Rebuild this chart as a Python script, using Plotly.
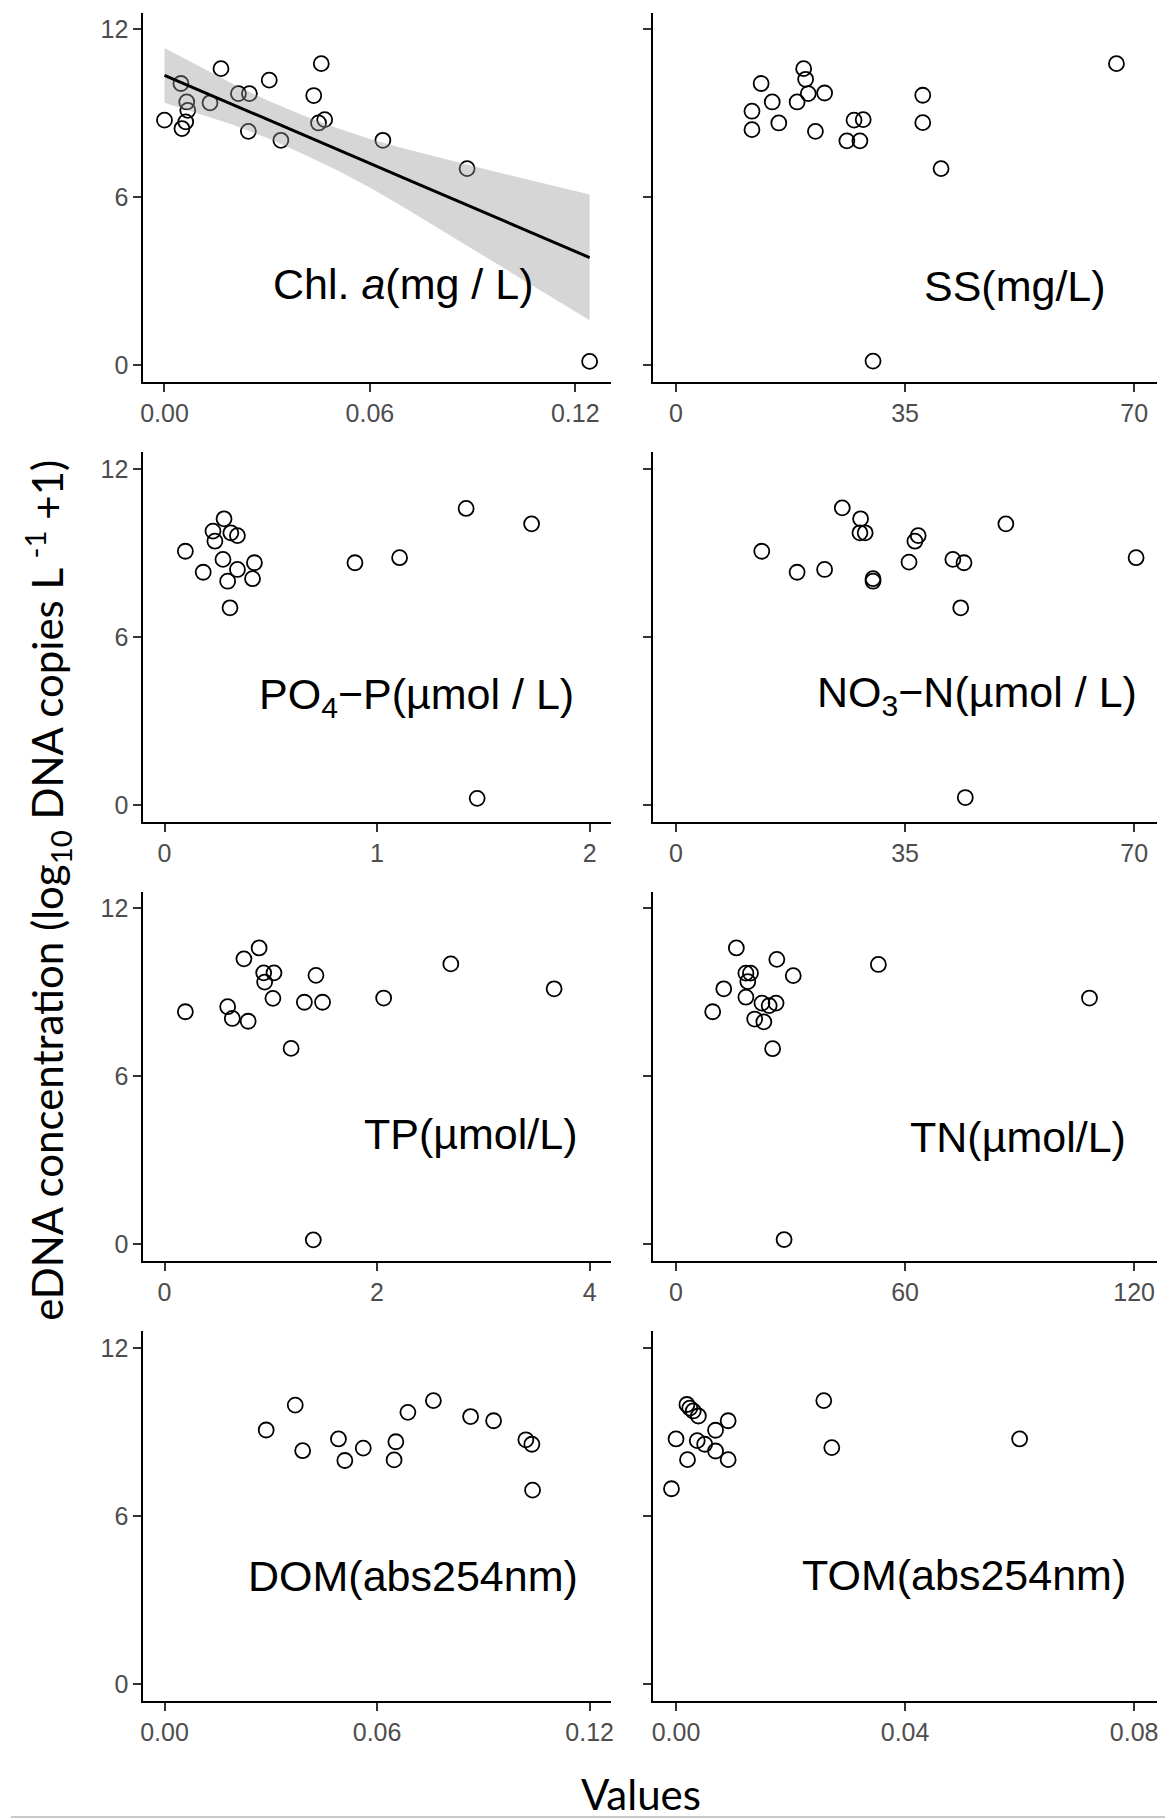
import plotly.graph_objects as go

W, H = 1168, 1819

# ---------------- data ----------------
chl_x = [0.0000, 0.0051, 0.0048, 0.0065, 0.0068, 0.0062, 0.0133, 0.0165, 0.0216, 0.0248,
         0.0245, 0.0306, 0.0340, 0.0436, 0.0458, 0.0450, 0.0468, 0.0638, 0.0884, 0.1242]
chl_y = [8.76, 8.46, 10.07, 9.41, 9.11, 8.70, 9.38, 10.60, 9.71, 9.71,
         8.36, 10.19, 8.04, 9.64, 10.78, 8.66, 8.78, 8.04, 7.03, 0.14]

ss_x = [11.6, 11.6, 13.0, 14.7, 15.7, 18.5, 19.5, 19.8, 20.2, 22.7,
        21.3, 26.1, 27.2, 28.6, 28.1, 37.7, 37.7, 40.5, 30.1, 67.3]
ss_y = [9.08, 8.42, 10.07, 9.41, 8.66, 9.41, 10.60, 10.22, 9.71, 9.73,
        8.36, 8.02, 8.76, 8.78, 8.02, 9.65, 8.67, 7.03, 0.15, 10.78]

po4_x = [0.098, 0.182, 0.228, 0.237, 0.280, 0.312, 0.343, 0.275, 0.297, 0.343,
         0.308, 0.423, 0.414, 0.896, 1.106, 1.419, 1.727, 1.471]
po4_y = [9.06, 8.31, 9.78, 9.42, 10.22, 9.72, 9.62, 8.77, 7.99, 8.41,
         7.04, 8.65, 8.08, 8.65, 8.83, 10.59, 10.04, 0.23]

no3_x = [13.1, 18.5, 22.7, 25.4, 28.2, 28.1, 28.9, 30.1, 30.1, 35.6,
         36.5, 37.0, 42.3, 44.0, 43.5, 50.4, 70.3, 44.2]
no3_y = [9.06, 8.31, 8.41, 10.61, 10.22, 9.72, 9.72, 8.08, 7.99, 8.67,
         9.42, 9.62, 8.77, 8.65, 7.04, 10.04, 8.83, 0.26]

tp_x = [0.196, 0.594, 0.638, 0.787, 0.747, 0.890, 0.933, 1.030, 0.942, 1.020,
        1.191, 1.316, 1.425, 1.487, 2.062, 2.694, 3.666, 1.400]
tp_y = [8.31, 8.49, 8.07, 7.97, 10.20, 10.59, 9.70, 9.70, 9.37, 8.79,
        7.00, 8.65, 9.61, 8.65, 8.80, 10.02, 9.13, 0.16]

tn_x = [9.6, 12.5, 15.8, 18.3, 19.5, 18.8, 18.3, 20.6, 23.0, 22.5,
        24.4, 26.2, 26.4, 30.7, 25.3, 53.0, 108.3, 28.3]
tn_y = [8.31, 9.13, 10.59, 9.69, 9.69, 9.39, 8.83, 8.05, 7.95, 8.62,
        8.53, 8.62, 10.18, 9.60, 6.99, 10.00, 8.80, 0.17]

dom_x = [0.0287, 0.0369, 0.0390, 0.0491, 0.0509, 0.0561, 0.0653, 0.0648, 0.0687, 0.0759,
         0.0864, 0.0929, 0.1020, 0.1037, 0.1039]
dom_y = [9.07, 9.96, 8.33, 8.75, 7.98, 8.42, 8.65, 8.00, 9.70, 10.12,
         9.55, 9.40, 8.72, 8.56, 6.92]

tom_x = [-0.0008, 0.0000, 0.0020, 0.0019, 0.0024, 0.0030, 0.0039, 0.0037, 0.0050, 0.0069,
         0.0069, 0.0091, 0.0091, 0.0258, 0.0272, 0.0600]
tom_y = [6.97, 8.75, 8.01, 9.98, 9.85, 9.75, 9.57, 8.69, 8.56, 9.06,
         8.32, 9.40, 8.01, 10.12, 8.44, 8.75]

# linear fit and its confidence band in the Chl. a panel
fit_x = [0.00, 0.01, 0.02, 0.03, 0.04, 0.05, 0.06, 0.07, 0.08, 0.09, 0.10, 0.11, 0.1242]
fit_y = [10.36, 9.84, 9.31, 8.79, 8.26, 7.74, 7.22, 6.69, 6.17, 5.64, 5.12, 4.60, 3.85]
ci_hi = [11.34, 10.68, 10.05, 9.47, 8.95, 8.50, 8.09, 7.75, 7.43, 7.12, 6.82, 6.52, 6.10]
ci_lo = [9.38, 9.00, 8.60, 8.12, 7.58, 7.00, 6.35, 5.64, 4.91, 4.17, 3.42, 2.67, 1.61]

y_tickvals = [0, 6, 12]
y_ticktext = ["0", "6", "12"]

panel_labels = ["Chl. <i>a</i>(mg / L)", "SS(mg/L)",
                "PO<sub>4</sub>\u2212P(\u00b5mol / L)", "NO<sub>3</sub>\u2212N(\u00b5mol / L)",
                "TP(\u00b5mol/L)", "TN(\u00b5mol/L)",
                "DOM(abs254nm)", "TOM(abs254nm)"]
label_pos = [(0.0696, 2.92), (51.85, 2.84), (1.184, 3.85), (46.0, 3.92),
             (2.887, 3.95), (89.55, 3.83), (0.0702, 3.85), (0.0503, 3.89)]

x_ranges = [[-0.0062, 0.1304], [-3.5, 73.5], [-0.1, 2.1], [-3.5, 73.5],
            [-0.2, 4.2], [-6, 126], [-0.006, 0.126], [-0.004, 0.084]]
x_tickvals = [[0, 0.06, 0.12], [0, 35, 70], [0, 1, 2], [0, 35, 70],
              [0, 2, 4], [0, 60, 120], [0, 0.06, 0.12], [0, 0.04, 0.08]]
x_ticktext = [["0.00", "0.06", "0.12"], ["0", "35", "70"], ["0", "1", "2"], ["0", "35", "70"],
              ["0", "2", "4"], ["0", "60", "120"], ["0.00", "0.06", "0.12"], ["0.00", "0.04", "0.08"]]

xs = [chl_x, ss_x, po4_x, no3_x, tp_x, tn_x, dom_x, tom_x]
ys = [chl_y, ss_y, po4_y, no3_y, tp_y, tn_y, dom_y, tom_y]

# ---------------- layout geometry (pixels) ----------------
col_px = [(141.0, 611.0), (653.5, 1160.0)]
row_px = [(12.7, 382.1), (452.2, 821.6), (891.7, 1261.1), (1331.2, 1700.6)]

TICK_FONT = dict(family="Liberation Sans, Arial, sans-serif", size=25, color="#4D4D4D")
LABEL_FONT = dict(family="Liberation Sans, Arial, sans-serif", size=43, color="#000000")
TITLE_FONT = dict(family="Lato, Open Sans, sans-serif", size=42, color="#000000")

fig = go.Figure()
layout = {}
annotations = []

for i in range(8):
    r, c = divmod(i, 2)
    n = i + 1
    xa = "x" if n == 1 else f"x{n}"
    ya = "y" if n == 1 else f"y{n}"
    fig.add_trace(go.Scatter(
        x=xs[i], y=ys[i], xaxis=xa, yaxis=ya, mode="markers",
        marker=dict(symbol="circle-open", size=15, color="black", line=dict(width=1.8)),
        showlegend=False, hoverinfo="skip"))
    if i == 0:
        fig.add_trace(go.Scatter(
            x=fit_x + fit_x[::-1], y=ci_hi + ci_lo[::-1], xaxis=xa, yaxis=ya,
            mode="lines", fill="toself", fillcolor="rgba(153,153,153,0.4)",
            line=dict(width=0), showlegend=False, hoverinfo="skip"))
        fig.add_trace(go.Scatter(
            x=fit_x, y=fit_y, xaxis=xa, yaxis=ya, mode="lines",
            line=dict(color="black", width=3.0), showlegend=False, hoverinfo="skip"))
    x0, x1 = col_px[c]
    y0, y1 = row_px[r]
    layout["xaxis" if n == 1 else f"xaxis{n}"] = dict(
        domain=[x0 / W, x1 / W], anchor=ya, range=x_ranges[i],
        tickmode="array", tickvals=x_tickvals[i], ticktext=x_ticktext[i],
        showline=True, linecolor="black", linewidth=1.8, mirror=False,
        ticks="outside", ticklen=8, tickwidth=1.5, tickcolor="#333333",
        showgrid=False, zeroline=False, tickfont=TICK_FONT, fixedrange=True)
    layout["yaxis" if n == 1 else f"yaxis{n}"] = dict(
        domain=[1 - y1 / H, 1 - y0 / H], anchor=xa, range=[-0.6, 12.6],
        tickmode="array", tickvals=y_tickvals, ticktext=y_ticktext,
        showticklabels=(c == 0),
        showline=True, linecolor="black", linewidth=1.8, mirror=False,
        ticks="outside", ticklen=8, tickwidth=1.5, tickcolor="#333333",
        showgrid=False, zeroline=False, tickfont=TICK_FONT, fixedrange=True)
    lx, ly = label_pos[i]
    annotations.append(dict(
        text=panel_labels[i], x=lx, y=ly, xref=xa, yref=ya,
        xanchor="center", yanchor="middle", showarrow=False, font=LABEL_FONT))

annotations.append(dict(
    text="eDNA concentration (log<sub>10</sub> DNA copies L <sup>-1</sup> +1)",
    x=44 / W, y=1 - 890 / H, xref="paper", yref="paper", textangle=-90,
    xanchor="center", yanchor="middle", showarrow=False, font=TITLE_FONT))
annotations.append(dict(
    text="Values", x=641 / W, y=1 - 1794 / H, xref="paper", yref="paper",
    xanchor="center", yanchor="middle", showarrow=False, font=TITLE_FONT))

fig.update_layout(
    width=W, height=H, margin=dict(l=0, r=0, t=0, b=0),
    paper_bgcolor="white", plot_bgcolor="white",
    annotations=annotations,
    shapes=[dict(type="line", xref="paper", yref="paper", x0=8 / W, x1=1,
                 y0=1 - 1817 / H, y1=1 - 1817 / H,
                 line=dict(color="#C8C8C8", width=2))],
    **layout)

fig.write_html("out.html", post_script="document.body.style.margin='0';",
               config={"displayModeBar": False})
